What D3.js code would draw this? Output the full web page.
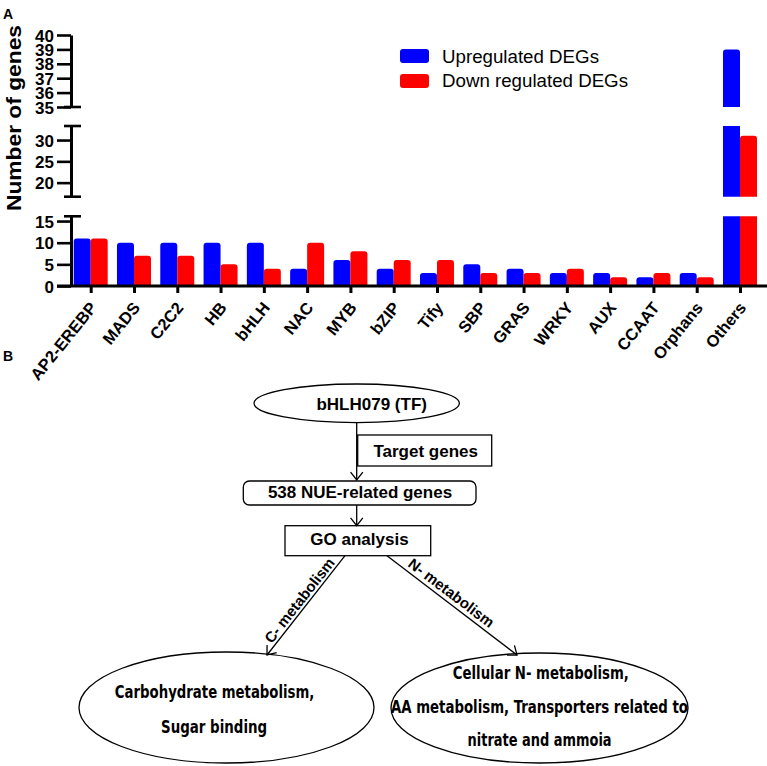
<!DOCTYPE html>
<html><head><meta charset="utf-8">
<script src="https://cdn.jsdelivr.net/npm/d3@7"></script>
<style>body{margin:0;background:#fff}svg{display:block}</style>
</head><body>
<svg id="c" width="767" height="766"></svg>
<script>
// ---------- data ----------
const categories = ["AP2-EREBP","MADS","C2C2","HB","bHLH","NAC","MYB","bZIP","Tify","SBP","GRAS","WRKY","AUX","CCAAT","Orphans","Others"];
const upregulated   = [11,10,10,10,10,4,6,4,3,5,4,3,3,2,3,39];
const downregulated = [11,7,7,5,4,10,8,6,6,3,3,4,2,3,2,31];
const seriesNames = ["Upregulated DEGs","Down regulated DEGs"];
const ticksLow  = [0,5,10,15];
const ticksMid  = [20,25,30];
const ticksHigh = [35,36,37,38,39,40];
const yTitle = "Number of genes";
const flowTop = "bHLH079 (TF)";
const flowTarget = "Target genes";
const flowGenes = "538 NUE-related genes";
const flowGO = "GO analysis";
const branchLabels = ["C- metabolism","N- metabolism"];
const leftResult = ["Carbohydrate metabolism,","Sugar binding"];
const rightResult = ["Cellular N- metabolism,","AA metabolism, Transporters related to","nitrate and ammoia"];

// ---------- setup ----------
const FONT = "'Liberation Sans', Arial, sans-serif";
const svg = d3.select("#c").style("font-family", FONT);
const colors = ["#0000ff", "#ff0000"];
const seriesVals = [upregulated, downregulated];

const axisX = 71, baseY = 286;
const segs = [
  {lo:0,    hi:16.1, y0:286,   y1:216.3, ticks:ticksLow,  capTop:true,  capBottom:false},
  {lo:16.7, hi:33.3, y0:196.7, y1:126,   ticks:ticksMid,  capTop:true,  capBottom:true},
  {lo:35,   hi:40,   y0:107,   y1:35,    ticks:ticksHigh, capTop:false, capBottom:true}
];
segs.forEach(s => s.scale = d3.scaleLinear().domain([s.lo, s.hi]).range([s.y0, s.y1]));

const x = d3.scalePoint().domain(categories).range([90.7, 740]);
const inner = d3.scaleBand().domain([0,1]).range([-17, 17]).padding(0);

function barPath(x0, w, yb, yt, round) {
  const r = round ? Math.min(3, (yb - yt)/2) : 0;
  return `M${x0},${yb}V${yt + r}Q${x0},${yt} ${x0 + r},${yt}H${x0 + w - r}Q${x0 + w},${yt} ${x0 + w},${yt + r}V${yb}Z`;
}

// bars
const gBars = svg.append("g");
segs.forEach(s => {
  categories.forEach((c, i) => {
    seriesVals.forEach((vals, k) => {
      const v = vals[i];
      if (v <= s.lo) return;
      const top = Math.min(v, s.hi);
      const x0 = x(c) + inner(k);
      gBars.append("path")
        .attr("d", barPath(x0, inner.bandwidth(), s.scale(s.lo), s.scale(top), v <= s.hi))
        .attr("fill", colors[k]);
    });
  });
});

// y axis segments
segs.forEach(s => {
  const g = svg.append("g").attr("transform", `translate(${axisX},0)`)
    .call(d3.axisLeft(s.scale).tickValues(s.ticks).tickFormat(d3.format("d"))
      .tickSize(14).tickSizeOuter(0).tickPadding(3));
  g.select(".domain").attr("stroke", "#000").attr("stroke-width", 3);
  g.selectAll(".tick line").attr("stroke", "#000").attr("stroke-width", 2.6);
  g.selectAll(".tick text").attr("fill", "#000").style("font-family", FONT)
    .style("font-size", "17px").style("font-weight", "bold").attr("dy", "0.36em");
  if (s.capTop) svg.append("line").attr("x1", 64).attr("x2", 81).attr("y1", s.y1).attr("y2", s.y1)
    .attr("stroke", "#000").attr("stroke-width", 2.6);
  if (s.capBottom) svg.append("line").attr("x1", 64).attr("x2", 81).attr("y1", s.y0).attr("y2", s.y0)
    .attr("stroke", "#000").attr("stroke-width", 2.6);
});

// x axis
const gx = svg.append("g").attr("transform", `translate(0,${baseY})`)
  .call(d3.axisBottom(x).tickSize(7).tickSizeOuter(0).tickFormat(""));
gx.select(".domain").remove();
gx.selectAll(".tick line").attr("stroke", "#000").attr("stroke-width", 3);
svg.append("line").attr("x1", 57).attr("x2", 767).attr("y1", baseY).attr("y2", baseY)
  .attr("stroke", "#000").attr("stroke-width", 3);
svg.append("g").selectAll("text").data(categories).join("text")
  .attr("transform", d => `translate(${x(d) + 7},${baseY + 22}) rotate(-51)`)
  .attr("text-anchor", "end")
  .style("font-size", "16.5px").style("font-weight", "bold")
  .text(d => d);

// y title
svg.append("text").attr("transform", "translate(21,118) rotate(-90)")
  .attr("text-anchor", "middle").style("font-size", "20px").style("font-weight", "bold")
  .attr("textLength", 186).attr("lengthAdjust", "spacingAndGlyphs")
  .text(yTitle);

// legend
const leg = svg.append("g");
seriesNames.forEach((n, k) => {
  leg.append("rect").attr("x", 400).attr("y", 49 + k * 25).attr("width", 29).attr("height", 14)
    .attr("rx", 3).attr("fill", colors[k]);
  leg.append("text").attr("x", 442).attr("y", 62.5 + k * 24.5)
    .style("font-size", "17.5px").attr("textLength", k ? 186 : 157).attr("lengthAdjust", "spacingAndGlyphs")
    .text(n);
});

// panel letters
svg.append("text").attr("x", 3).attr("y", 19).style("font-size", "14px").style("font-weight", "bold").text("A");
svg.append("text").attr("x", 3).attr("y", 361).style("font-size", "14px").style("font-weight", "bold").text("B");

// ---------- flowchart ----------
const fc = svg.append("g").attr("fill", "none").attr("stroke", "#000").attr("stroke-width", 1.3);
function arrow(x1, y1, x2, y2) {
  fc.append("line").attr("x1", x1).attr("y1", y1).attr("x2", x2).attr("y2", y2);
  const a = Math.atan2(y2 - y1, x2 - x1), L = 10, h = 0.66;
  const p1 = [x2 - L * Math.cos(a - h), y2 - L * Math.sin(a - h)];
  const p2 = [x2 - L * Math.cos(a + h), y2 - L * Math.sin(a + h)];
  fc.append("path").attr("d", `M${p1}L${x2},${y2}L${p2}`);
}
function label(t, xx, yy, size, opts = {}) {
  const el = svg.append("text").attr("x", xx).attr("y", yy).attr("text-anchor", "middle")
    .style("font-size", size + "px").style("font-weight", "bold").text(t);
  if (opts.len) el.attr("textLength", opts.len).attr("lengthAdjust", "spacingAndGlyphs");
  if (opts.family) el.style("font-family", opts.family);
  if (opts.rot !== undefined) el.attr("transform", `rotate(${opts.rot},${xx},${yy})`);
  return el;
}

fc.append("ellipse").attr("cx", 356.7).attr("cy", 403.3).attr("rx", 102.7).attr("ry", 19.3);
label(flowTop, 371.7, 409.5, 17);
arrow(356.7, 422.7, 356.7, 480);
fc.append("rect").attr("x", 357.7).attr("y", 435).attr("width", 134).attr("height", 31);
label(flowTarget, 425.7, 457.3, 17);
fc.append("rect").attr("x", 243.3).attr("y", 481).attr("width", 232.7).attr("height", 24).attr("rx", 6);
label(flowGenes, 360, 498.3, 17);
arrow(356.7, 505, 356.7, 525.7);
fc.append("rect").attr("x", 285).attr("y", 525.7).attr("width", 145.7).attr("height", 30);
label(flowGO, 359.5, 545, 17);

arrow(345, 555.7, 267, 655);
arrow(387, 555.7, 517, 655);
label(branchLabels[0], 303.6, 603.6, 15, {rot: -51.8});
label(branchLabels[1], 448.2, 597, 15, {rot: 37.3});

const NARROW = "'Liberation Sans Narrow', 'DejaVu Sans Condensed', 'Liberation Sans', sans-serif";
fc.append("ellipse").attr("cx", 226.5).attr("cy", 707.5).attr("rx", 147.5).attr("ry", 55.5);
fc.append("ellipse").attr("cx", 539.5).attr("cy", 708).attr("rx", 148.5).attr("ry", 55);
label(leftResult[0], 214.6, 698, 17, {len: 199.5, family: NARROW});
label(leftResult[1], 214.1, 733, 17, {len: 106, family: NARROW});
label(rightResult[0], 540.8, 679, 17, {len: 176, family: NARROW});
label(rightResult[1], 539.5, 712.5, 17, {len: 297, family: NARROW});
label(rightResult[2], 539.6, 746, 17, {len: 144, family: NARROW});
</script>
</body></html>
